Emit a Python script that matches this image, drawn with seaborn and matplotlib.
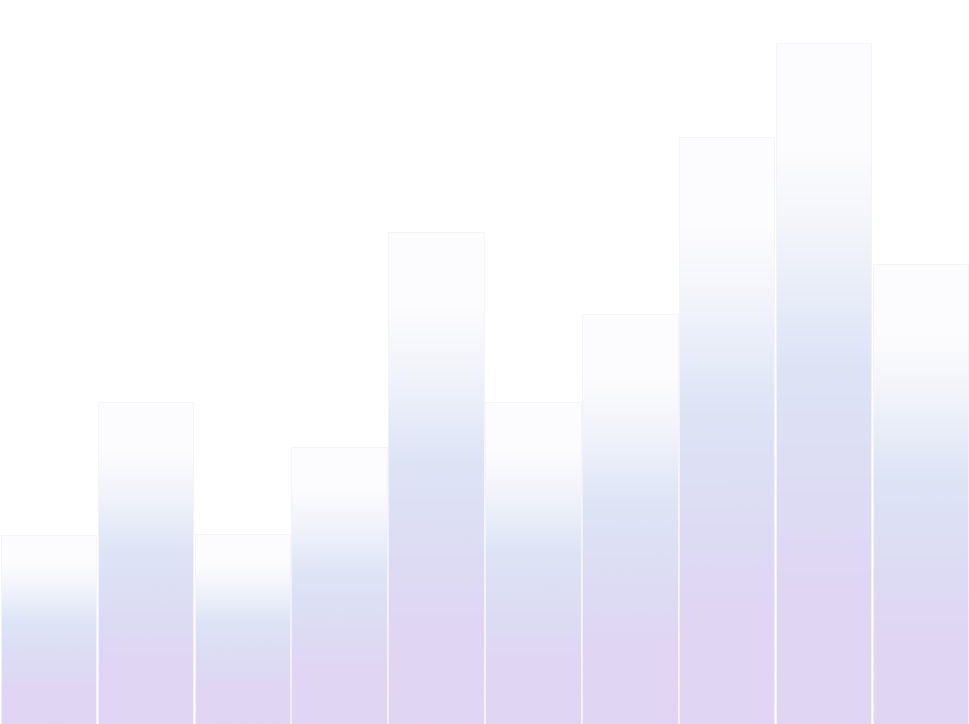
import numpy as np
import pandas as pd
import matplotlib
matplotlib.use("Agg")
import matplotlib.pyplot as plt
import seaborn as sns
from matplotlib.colors import LinearSegmentedColormap

categories = ["A", "B", "C", "D", "E", "F", "G", "H", "I", "J"]
values = [26.1, 44.5, 26.2, 38.3, 68.0, 44.5, 56.6, 81.1, 94.0, 63.5]

df = pd.DataFrame({"category": categories, "value": values})

sns.set_theme(style="white")
fig = plt.figure(figsize=(9.69, 7.24), dpi=100)
ax = fig.add_axes([0, 0, 1, 1])
sns.barplot(data=df, x="category", y="value", ax=ax, width=0.985,
            color="#dde3f6", edgecolor="#f4f4f8", linewidth=0.6)
ax.set_xlim(-0.5, len(categories) - 0.5)
ax.set_ylim(0, 100)
ax.axis("off")

cmap = LinearSegmentedColormap.from_list(
    "grad",
    [(0.0, "#fdfdfe"), (0.16, "#fcfcfe"), (0.27, "#f3f5fb"),
     (0.47, "#dde4f6"), (0.66, "#dddcf4"), (0.8, "#e0d6f4"), (1.0, "#e0d5f3")])
grad = np.linspace(0, 1, 256).reshape(-1, 1)

for patch in ax.patches:
    x0, y0 = patch.get_x(), patch.get_y()
    w, h = patch.get_width(), patch.get_height()
    im = ax.imshow(grad, cmap=cmap, aspect="auto", origin="upper",
                   extent=[x0, x0 + w, y0, y0 + h], zorder=1)
    im.set_clip_path(patch)
    patch.set_facecolor("none")
    patch.set_zorder(2)

ax.set_xlim(-0.5, len(categories) - 0.5)
ax.set_ylim(0, 100)
fig.savefig("out.png", dpi=100, facecolor="white")
